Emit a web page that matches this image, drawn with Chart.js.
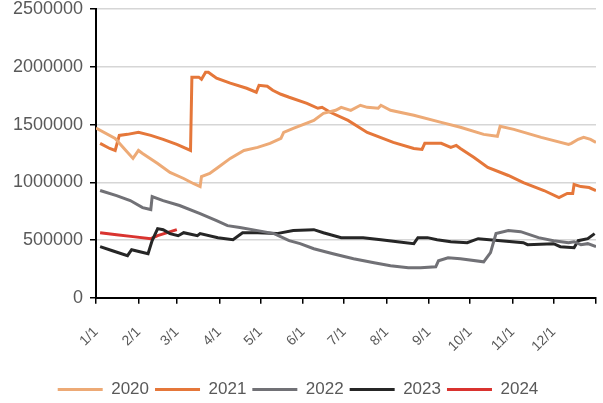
<!DOCTYPE html>
<html>
<head>
    <title>Yearly comparison</title>
    <script src="https://cdn.jsdelivr.net/npm/chart.js"></script>
    <style>
        body { margin: 0; background: #fff; }
    </style>
</head>
<body>
    <canvas id="chart" width="603" height="403"></canvas>

    <script>
        // giorni dall'inizio dell'anno e valori
        const monthStarts = [0, 31, 59, 90, 120, 151, 181, 212, 243, 273, 304, 334, 365];
        const monthLabels = ['1/1', '2/1', '3/1', '4/1', '5/1', '6/1', '7/1', '8/1', '9/1', '10/1', '11/1', '12/1'];
        const yearLabels = ['2020', '2021', '2022', '2023', '2024'];

        const days2020 = [0, 14, 20, 27, 31, 34, 45, 54, 64, 71, 76, 77, 83, 89, 98, 108, 118, 127, 135, 137, 144, 159, 166, 175, 179, 186, 193, 198, 206, 208, 215, 232, 252, 266, 283, 293, 295, 305, 325, 345, 347, 352, 356, 361, 365];
        const values2020 = [1470000, 1380000, 1300000, 1207000, 1276000, 1250000, 1163000, 1085000, 1033000, 990000, 963000, 1050000, 1076000, 1128000, 1207000, 1276000, 1302000, 1337000, 1380000, 1432000, 1467000, 1536000, 1597000, 1623000, 1649000, 1623000, 1667000, 1649000, 1641000, 1667000, 1623000, 1580000, 1519000, 1476000, 1415000, 1398000, 1484000, 1458000, 1389000, 1328000, 1337000, 1372000, 1389000, 1372000, 1345000];

        const days2021 = [3, 10, 14, 17, 23, 31, 40, 49, 59, 69, 70, 75, 77, 80, 82, 88, 98, 110, 117, 119, 125, 129, 135, 141, 154, 162, 165, 171, 184, 198, 217, 232, 238, 240, 252, 259, 263, 266, 276, 286, 301, 312, 327, 338, 344, 348, 349, 354, 360, 365];
        const values2021 = [1337000, 1293000, 1276000, 1406000, 1415000, 1432000, 1406000, 1372000, 1328000, 1276000, 1910000, 1910000, 1892000, 1953000, 1953000, 1901000, 1858000, 1814000, 1780000, 1840000, 1832000, 1797000, 1762000, 1736000, 1684000, 1641000, 1649000, 1606000, 1536000, 1432000, 1345000, 1293000, 1285000, 1337000, 1337000, 1302000, 1319000, 1293000, 1215000, 1128000, 1059000, 998000, 929000, 868000, 903000, 903000, 981000, 963000, 955000, 929000];

        const days2022 = [3, 15, 25, 34, 40, 41, 49, 61, 76, 88, 96, 105, 118, 130, 141, 149, 159, 173, 188, 203, 215, 228, 237, 248, 250, 257, 266, 283, 288, 292, 301, 310, 323, 334, 345, 349, 354, 359, 365];
        const values2022 = [929000, 885000, 842000, 781000, 764000, 877000, 842000, 799000, 729000, 668000, 625000, 608000, 582000, 556000, 495000, 469000, 425000, 382000, 339000, 304000, 278000, 260000, 260000, 269000, 321000, 347000, 339000, 312000, 391000, 556000, 582000, 573000, 521000, 495000, 477000, 486000, 460000, 469000, 443000];

        const days2023 = [3, 12, 23, 26, 32, 38, 41, 45, 49, 54, 60, 64, 74, 76, 89, 100, 107, 118, 132, 144, 159, 166, 179, 195, 208, 220, 232, 235, 242, 249, 259, 271, 279, 312, 315, 334, 339, 349, 352, 359, 364];
        const values2023 = [443000, 408000, 365000, 417000, 399000, 382000, 495000, 599000, 590000, 556000, 538000, 564000, 538000, 556000, 521000, 503000, 564000, 564000, 556000, 582000, 590000, 564000, 521000, 521000, 503000, 486000, 469000, 521000, 521000, 503000, 486000, 477000, 512000, 477000, 460000, 469000, 443000, 434000, 495000, 512000, 556000];

        const days2024 = [3, 15, 27, 40, 45, 52, 59];
        const values2024 = [564000, 547000, 530000, 512000, 538000, 564000, 590000];

        const seriesDays = [days2020, days2021, days2022, days2023, days2024];
        const seriesValues = [values2020, values2021, values2022, values2023, values2024];
        const seriesColors = ['#EDAA76', '#E5773A', '#717176', '#262626', '#D9332F'];

        Chart.defaults.font.family = "'Liberation Sans', Arial, sans-serif";
        Chart.defaults.color = '#595959';

        const datasets = yearLabels.map((label, i) => ({
            label: label,
            data: seriesDays[i].map((d, j) => ({ x: d, y: seriesValues[i][j] })),
            borderColor: seriesColors[i],
            backgroundColor: seriesColors[i],
            borderWidth: 3,
            pointRadius: 0,
            pointStyle: 'line',
        }));

        const ctx = document.getElementById('chart').getContext('2d');

        new Chart(ctx, {
            type: 'line',
            data: { datasets: datasets },
            options: {
                responsive: false,
                animation: false,
                layout: { padding: { left: 0, right: 7, top: 9, bottom: -5 } },
                plugins: {
                    tooltip: { enabled: false },
                    legend: {
                        position: 'bottom',
                        labels: {
                            usePointStyle: true,
                            pointStyle: 'line',
                            pointStyleWidth: 45,
                            padding: 6,
                            color: '#595959',
                            font: { size: 17 },
                        },
                    },
                },
                scales: {
                    x: {
                        type: 'linear',
                        min: 0,
                        max: 365,
                        afterBuildTicks: (scale) => {
                            scale.ticks = monthStarts.map(v => ({ value: v }));
                        },
                        afterFit: (scale) => {
                            scale.paddingLeft = 0;
                            scale.paddingRight = 0;
                        },
                        grid: {
                            drawOnChartArea: false,
                            tickLength: 6,
                            tickColor: '#000',
                            lineWidth: 1.5,
                        },
                        border: { color: '#000', width: 2 },
                        ticks: {
                            autoSkip: false,
                            minRotation: 45,
                            maxRotation: 45,
                            padding: 20,
                            color: '#595959',
                            font: { size: 14 },
                            callback: (value, index) => monthLabels[index] || '',
                        },
                    },
                    y: {
                        min: 0,
                        max: 2500000,
                        afterFit: (scale) => {
                            scale.width = 96;
                            scale.paddingTop = 0;
                            scale.paddingBottom = 0;
                        },
                        grid: {
                            color: '#d6d6d6',
                            lineWidth: 1.5,
                            tickColor: '#000',
                            tickLength: 6,
                        },
                        border: { color: '#000', width: 2 },
                        ticks: {
                            stepSize: 500000,
                            padding: 7,
                            color: '#595959',
                            font: { size: 18 },
                            callback: (value) => String(value),
                        },
                    },
                },
            },
        });
    </script>
</body>
</html>
